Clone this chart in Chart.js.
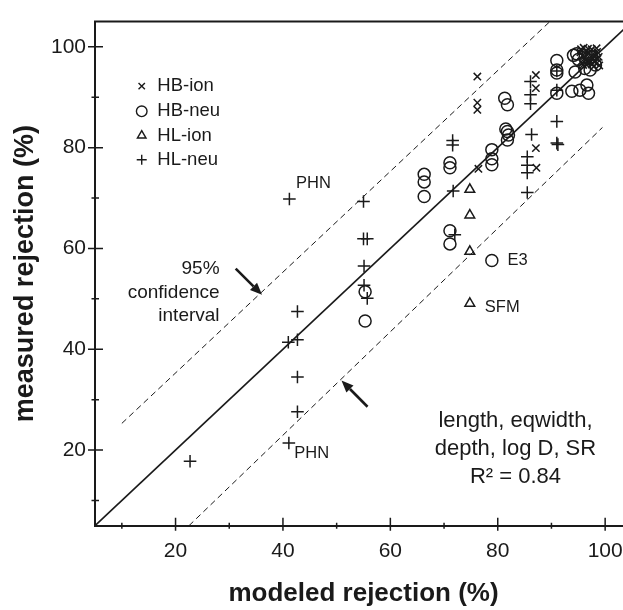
<!DOCTYPE html>
<html><head><meta charset="utf-8">
<style>
html,body{margin:0;padding:0;overflow:hidden;background:#fff;width:623px;height:610px}
#wrap{position:relative;width:640px;height:610px}
</style>
<script src="https://cdn.jsdelivr.net/npm/chart.js@4/dist/chart.umd.min.js"></script>
</head><body><div id="wrap"><canvas id="c" width="640" height="610"></canvas></div>
<script>
// ---- data (modeled %, measured %) ----
const hbIon = [[76.2,94.1],[76.2,88.9],[76.2,87.5],[76.4,75.8],[87.1,94.4],[87.1,91.8],[87.1,79.9],[87.2,76.0],
  [95.5,99.5],[96.5,99.0],[97.5,99.5],[98.5,99.0],[96.0,98.0],[97.0,97.5],[98.0,98.0],[95.5,97.0],[96.5,96.5],
  [97.5,96.5],[98.5,96.8],[97.0,98.8],[98.0,97.0],[96.0,99.8],[95.8,98.3],[98.8,98.0],
  [96.8,99.6],[97.8,98.6],[98.4,99.7],[95.9,96.4],[97.2,96.9],[96.3,97.3],[98.6,97.6],[97.6,97.8],
  [96.6,98.4],[95.4,98.9],[98.9,96.3],[97.9,96.1]];
const hbNeu = [[55.3,51.4],[55.3,45.6],[66.3,74.7],[66.3,73.2],[66.3,70.3],[71.1,77.0],[71.1,76.0],[71.1,63.5],
  [71.1,60.9],[78.9,57.6],[78.9,79.6],[78.9,77.8],[78.9,76.6],[81.3,89.8],[81.8,88.5],[81.5,83.7],[81.8,83.2],
  [82.0,82.5],[81.8,81.5],[91.0,97.3],[91.0,95.4],[91.0,94.8],[91.0,90.8],[94.1,98.3],[94.7,98.6],[94.4,95.0],
  [93.8,91.2],[95.3,91.4],[96.6,92.4],[96.9,90.8],[97.2,95.4],[96.2,95.7],[97.5,98.0],[95.0,97.5],[98.2,96.4]];
const hlIon = [[74.8,71.7],[74.8,66.6],[74.8,59.4],[74.8,49.1]];
const hlNeu = [[22.7,17.8],[41.1,21.4],[42.7,27.6],[42.7,34.5],[42.7,41.9],[41.0,41.4],[42.7,47.5],[55.1,56.5],
  [55.1,52.7],[55.7,50.1],[55.0,69.3],[55.0,61.9],[55.7,61.9],[41.2,69.8],[71.7,71.4],[71.6,81.4],[71.6,80.5],
  [72.0,62.7],[85.5,78.2],[85.5,76.5],[85.5,75.0],[85.5,71.1],[86.1,93.1],[86.1,90.5],[86.1,88.7],[91.0,85.2],
  [91.0,80.9],[91.2,80.6],[86.3,82.6],[91.0,91.4],[91.0,95.2]];
const fitLine = [[5,5],[105,105]];
const ciUpper = [[10,25.3],[89.7,105]];
const ciLower = [[22.5,5],[99.5,84]];
const tickValues = [10,20,30,40,50,60,70,80,90,100];
const tickLabels = ['20','40','60','80','100'];
const seriesNames = ['HB-ion','HB-neu','HL-ion','HL-neu'];

// ---- styling / annotation placement ----
const INK = '#1a1a1a';
const FONT = "'Liberation Sans', Arial, Helvetica, sans-serif";
const styles = {'HB-ion':{ps:'crossRot',r:5.2,lr:4.5},'HB-neu':{ps:'circle',r:6,lr:5.3},'HL-ion':{ps:'triangle',r:5.6,lr:5},'HL-neu':{ps:'cross',r:6.3,lr:5}};
const legendPos = {x:13.7, tx:16.6, ys:[92.2,87.2,82.4,77.6]};
const notes = [
  {t:'95%', x:28.2, y:55.9, a:'right', s:19},
  {t:'confidence', x:28.2, y:51.3, a:'right', s:19},
  {t:'interval', x:28.2, y:46.7, a:'right', s:19},
  {t:'PHN', x:42.45, y:72.9, a:'left', s:16.5},
  {t:'PHN', x:42.1, y:19.3, a:'left', s:16.5},
  {t:'E3', x:81.8, y:57.6, a:'left', s:16.5},
  {t:'SFM', x:77.6, y:48.3, a:'left', s:16.5},
  {t:'length, eqwidth,', x:83.3, y:25.7, a:'center', s:22},
  {t:'depth, log D, SR', x:83.3, y:20.2, a:'center', s:22},
  {t:'R² = 0.84', x:83.3, y:14.6, a:'center', s:22}
];
const arrows = [{x1:31.2,y1:56.0,x2:36.1,y2:50.8},{x1:55.75,y1:28.6,x2:50.9,y2:33.8}];

const toPts = a => a.map(([x,y]) => ({x, y}));

function drawMarker(ctx, ps, r, x, y) {
  ctx.beginPath();
  if (ps === 'circle') { ctx.arc(x, y, r, 0, Math.PI*2); }
  else if (ps === 'triangle') {
    const w = r*Math.sqrt(3)/2;
    ctx.moveTo(x, y - r); ctx.lineTo(x + w, y + r/2); ctx.lineTo(x - w, y + r/2); ctx.closePath();
  } else if (ps === 'cross') { ctx.moveTo(x-r,y); ctx.lineTo(x+r,y); ctx.moveTo(x,y-r); ctx.lineTo(x,y+r); }
  else { const o = r*Math.SQRT1_2; ctx.moveTo(x-o,y-o); ctx.lineTo(x+o,y+o); ctx.moveTo(x+o,y-o); ctx.lineTo(x-o,y+o); }
  ctx.stroke();
}

const decor = {
  id:'decor',
  afterDraw(chart) {
    const {ctx, chartArea:ca, scales:{x:sx, y:sy}} = chart;
    ctx.save();
    ctx.strokeStyle = INK; ctx.fillStyle = INK;
    // top frame line
    ctx.lineWidth = 2;
    ctx.beginPath(); ctx.moveTo(ca.left - 1, ca.top); ctx.lineTo(ca.right, ca.top); ctx.stroke();
    // ticks crossing the axes
    tickValues.forEach(v => {
      const major = tickLabels.includes(String(v));
      const px = sx.getPixelForValue(v), py = sy.getPixelForValue(v);
      ctx.lineWidth = 1.5;
      ctx.beginPath();
      ctx.moveTo(px, ca.bottom - (major ? 8 : 3)); ctx.lineTo(px, ca.bottom + (major ? 5 : 3));
      ctx.moveTo(ca.left - (major ? 7 : 3.5), py); ctx.lineTo(ca.left + (major ? 8 : 4), py);
      ctx.stroke();
    });
    // arrows
    arrows.forEach(a => {
      const x1 = sx.getPixelForValue(a.x1), y1 = sy.getPixelForValue(a.y1);
      const x2 = sx.getPixelForValue(a.x2), y2 = sy.getPixelForValue(a.y2);
      const ang = Math.atan2(y2 - y1, x2 - x1), L = 12, W = 5;
      const bx = x2 - L*Math.cos(ang), by = y2 - L*Math.sin(ang);
      ctx.lineWidth = 2.6;
      ctx.beginPath(); ctx.moveTo(x1, y1); ctx.lineTo(bx, by); ctx.stroke();
      ctx.beginPath(); ctx.moveTo(x2, y2);
      ctx.lineTo(bx + W*Math.sin(ang), by - W*Math.cos(ang));
      ctx.lineTo(bx - W*Math.sin(ang), by + W*Math.cos(ang));
      ctx.closePath(); ctx.fill();
    });
    // text notes
    ctx.textBaseline = 'middle';
    notes.forEach(n => {
      ctx.font = n.s + 'px ' + FONT; ctx.textAlign = n.a;
      ctx.fillText(n.t, sx.getPixelForValue(n.x), sy.getPixelForValue(n.y));
    });
    // legend
    ctx.font = '18.5px ' + FONT; ctx.textAlign = 'left';
    seriesNames.forEach((name, i) => {
      const st = styles[name];
      const mx = sx.getPixelForValue(legendPos.x), my = sy.getPixelForValue(legendPos.ys[i]);
      ctx.lineWidth = 1.4;
      drawMarker(ctx, st.ps, st.lr, mx, my);
      ctx.fillText(name, sx.getPixelForValue(legendPos.tx), my);
    });
    ctx.restore();
  }
};

const seriesData = {'HB-ion':hbIon,'HB-neu':hbNeu,'HL-ion':hlIon,'HL-neu':hlNeu};
const pointSets = seriesNames.map(name => ({
  label:name, data:toPts(seriesData[name]), pointStyle:styles[name].ps,
  pointRadius:styles[name].r, pointHoverRadius:styles[name].r,
  borderColor:INK, backgroundColor:'rgba(0,0,0,0)', pointBorderWidth:1.5, borderWidth:1.5
}));
const lineSet = (lbl, d, w, dash) => ({label:lbl, data:toPts(d), showLine:true, borderColor:INK,
  borderWidth:w, borderDash:dash, pointRadius:0, pointHoverRadius:0, fill:false});

const axisCommon = {
  type:'linear', min:5, max:105,
  afterBuildTicks: s => { s.ticks = tickValues.map(v => ({value:v})); },
  grid:{display:false, drawTicks:false},
  border:{display:true, width:2, color:INK},
};

new Chart(document.getElementById('c'), {
  type:'scatter',
  data:{datasets:[
    lineSet('fit', fitLine, 1.6, []),
    lineSet('ci-upper', ciUpper, 1, [6,4]),
    lineSet('ci-lower', ciLower, 1, [6,4]),
    ...pointSets
  ]},
  options:{
    responsive:false, animation:false, devicePixelRatio:1,
    layout:{padding:{left:0, right:8, top:16, bottom:0}},
    plugins:{legend:{display:false}, tooltip:{enabled:false}},
    events:[],
    scales:{
      x:{...axisCommon, position:'bottom',
        afterFit: s => { s.height = 84.3; },
        ticks:{callback:v => tickLabels.includes(String(v)) ? String(v) : '', font:{family:FONT, size:21}, color:INK,
          padding:13, maxRotation:0, autoSkip:false},
        title:{display:true, text:'modeled rejection (%)', color:INK,
          font:{family:FONT, size:26, weight:'bold', lineHeight:1}, padding:{top:0, bottom:3}}},
      y:{...axisCommon, position:'left',
        afterFit: s => { s.width = 95; },
        ticks:{callback:v => tickLabels.includes(String(v)) ? String(v) : '', font:{family:FONT, size:21}, color:INK,
          padding:9, autoSkip:false},
        title:{display:true, text:'measured rejection (%)', color:INK,
          font:{family:FONT, size:27, weight:'bold', lineHeight:1}, padding:{top:12, bottom:0}}}
    }
  },
  plugins:[decor]
});
</script></body></html>
